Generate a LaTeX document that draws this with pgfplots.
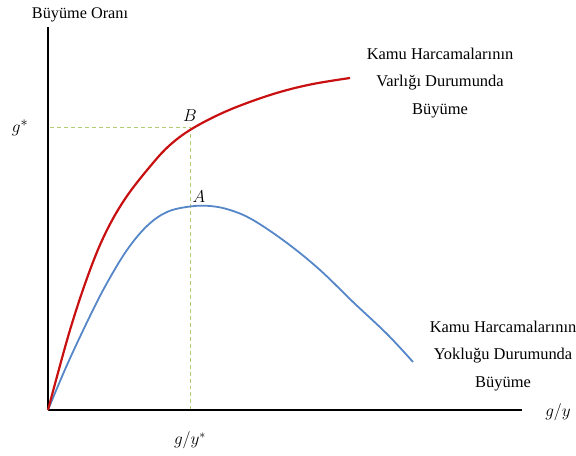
\documentclass[border=0pt]{standalone}
\usepackage{pgfplots}
\pgfplotsset{compat=1.18}
\usepackage{fontspec}
\setmainfont{Liberation Serif}
\definecolor{cred}{RGB}{200,16,16}
\definecolor{cblue}{RGB}{84,134,200}
\definecolor{cgreen}{RGB}{178,202,115}
\begin{document}
\begin{tikzpicture}[x=1bp,y=1bp]
\useasboundingbox (-48,-46) rectangle (528,410);
\begin{axis}[
  at={(0,0)}, anchor=south west,
  scale only axis, width=474bp, height=383bp,
  xmin=0, xmax=474, ymin=0, ymax=383,
  axis lines=left,
  axis line style={-, line width=1.6pt, black},
  xtick=\empty, ytick=\empty,
  clip=false,
]
\addplot[cgreen, line width=1pt, dash pattern=on 4pt off 3pt] coordinates {(2,282) (142,282) (142,1)};
\addplot[cblue, line width=1.8pt, smooth, tension=0.6] coordinates {
(0,0) (19,45) (42,94) (59,127) (79,160) (99,184) (119,198) (142,203.5) (162,204) (182,200) (205,190) (239,167) (272,140) (305,108) (339,76) (365,48)};
\addplot[cred, line width=2.2pt, smooth, tension=0.6] coordinates {
(0,0) (22,80) (42,140) (59,180) (79,214) (105,247) (122,265) (142,280) (170,295) (199,307) (232,318) (265,326) (302,332)};
\node[font=\fontsize{16.3}{18}\selectfont] at (axis cs:32,395) {Büyüme Oranı};
\node[font=\fontsize{19}{21}\selectfont] at (axis cs:-28,282) {$g^{*}$};
\node[font=\fontsize{17}{19}\selectfont] at (axis cs:142,294) {$B$};
\node[font=\fontsize{17}{19}\selectfont] at (axis cs:151,213) {$A$};
\node[font=\fontsize{18.5}{21}\selectfont] at (axis cs:510,-2) {$g/y$};
\node[font=\fontsize{18.5}{21}\selectfont] at (axis cs:142,-30) {$g/y^{*}$};
\node[font=\fontsize{16.5}{28}\selectfont, align=center] at (axis cs:392,327) {Kamu Harcamalarının\\Varlığı Durumunda\\Büyüme};
\node[font=\fontsize{16.5}{28}\selectfont, align=center] at (axis cs:455,54) {Kamu Harcamalarının\\Yokluğu Durumunda\\Büyüme};
\end{axis}
\end{tikzpicture}
\end{document}
